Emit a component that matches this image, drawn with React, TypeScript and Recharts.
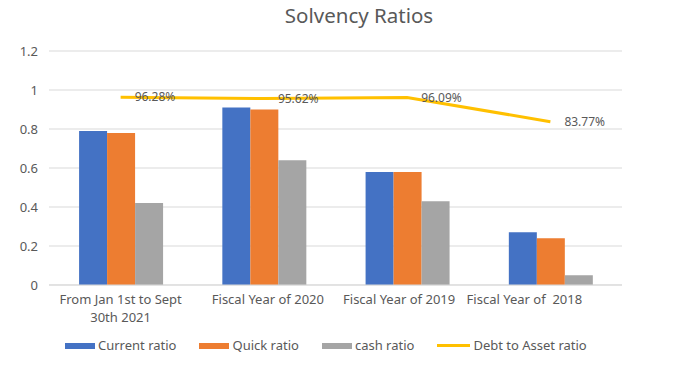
import React from "react";
import {
  ComposedChart,
  Bar,
  Line,
  XAxis,
  YAxis,
  CartesianGrid,
  LabelList,
} from "recharts";

const categories = [
  "From Jan 1st to Sept 30th 2021",
  "Fiscal Year of 2020",
  "Fiscal Year of 2019",
  "Fiscal Year of  2018",
];
const categoryLines = [
  ["From Jan 1st to Sept", "30th 2021"],
  ["Fiscal Year of 2020"],
  ["Fiscal Year of 2019"],
  ["Fiscal Year of  2018"],
];
const currentRatio = [0.79, 0.91, 0.58, 0.27];
const quickRatio = [0.78, 0.9, 0.58, 0.24];
const cashRatio = [0.42, 0.64, 0.43, 0.05];
const debtToAsset = [0.9628, 0.9562, 0.9609, 0.8377];
const yTicks = [0, 0.2, 0.4, 0.6, 0.8, 1, 1.2];

const seriesNames = ["Current ratio", "Quick ratio", "cash ratio", "Debt to Asset ratio"];
const COLORS = ["#4472C4", "#ED7D31", "#A5A5A5", "#FFC000"];
const TEXT = "#595959";
const GRID = "#D9D9D9";
const FONT = "'Noto Sans', 'DejaVu Sans', sans-serif";

const data = categories.map((c, i) => ({
  name: c,
  current: currentRatio[i],
  quick: quickRatio[i],
  cash: cashRatio[i],
  debt: debtToAsset[i],
}));

const tickShift = [0, 4, -8, -26];

const XTick = (props: any) => {
  const { x, y, index } = props;
  const lines = categoryLines[index] || [String(props.payload?.value ?? "")];
  const tx = x + (tickShift[index] || 0);
  return (
    <g>
      {lines.map((l: string, k: number) => (
        <text
          key={k}
          x={tx}
          y={y + 11 + k * 18}
          textAnchor="middle"
          fill={TEXT}
          fontSize={13}
          fontFamily={FONT}
          style={{ whiteSpace: "pre" }}
        >
          {l}
        </text>
      ))}
    </g>
  );
};

const DebtLabel = (props: any) => {
  const { x, y, value } = props;
  return (
    <text
      x={x + 14}
      y={y}
      dy="0.35em"
      textAnchor="start"
      fill={TEXT}
      fontSize={12}
      fontFamily={FONT}
    >
      {(Number(value) * 100).toFixed(2) + "%"}
    </text>
  );
};

export default function App() {
  return (
    <div style={{ position: "absolute", left: 0, top: 0, width: 673, height: 370, background: "#fff", fontFamily: FONT }}>
      <div
        style={{
          position: "absolute",
          left: 0,
          width: 718,
          top: 2,
          textAlign: "center",
          fontSize: 20.5,
          color: TEXT,
          lineHeight: "26px",
        }}
      >
        Solvency Ratios
      </div>
      <ComposedChart
        width={673}
        height={370}
        data={data}
        margin={{ top: 51, right: 51, bottom: 0, left: 0 }}
        barCategoryGap="21%"
        barGap={0}
      >
        <CartesianGrid vertical={false} stroke={GRID} strokeWidth={1} />
        <XAxis
          dataKey="name"
          axisLine={{ stroke: GRID }}
          tickLine={false}
          tickSize={0}
          tickMargin={8}
          height={85}
          interval={0}
          tick={<XTick />}
        />
        <YAxis
          domain={[0, 1.2]}
          ticks={yTicks}
          width={49}
          axisLine={false}
          tickLine={false}
          tickSize={0}
          tickMargin={11}
          tick={{ fill: TEXT, fontSize: 13, fontFamily: FONT }}
          tickFormatter={(v: number) => String(Number(v.toFixed(1)))}
        />
        <Bar dataKey="current" name={seriesNames[0]} fill={COLORS[0]} isAnimationActive={false} />
        <Bar dataKey="quick" name={seriesNames[1]} fill={COLORS[1]} isAnimationActive={false} />
        <Bar dataKey="cash" name={seriesNames[2]} fill={COLORS[2]} isAnimationActive={false} />
        <Line
          dataKey="debt"
          name={seriesNames[3]}
          stroke={COLORS[3]}
          strokeWidth={3}
          dot={false}
          activeDot={false}
          isAnimationActive={false}
        >
          <LabelList dataKey="debt" content={<DebtLabel />} />
        </Line>
      </ComposedChart>
      <div
        style={{
          position: "absolute",
          left: 65,
          top: 337,
          display: "flex",
          alignItems: "center",
          fontSize: 13,
          color: TEXT,
          whiteSpace: "nowrap",
        }}
      >
        {seriesNames.map((n, i) => (
          <div key={n} style={{ display: "flex", alignItems: "center", marginRight: 23 }}>
            {i < 3 ? (
              <span style={{ display: "inline-block", width: 30, height: 6, background: COLORS[i] }} />
            ) : (
              <span style={{ display: "inline-block", width: 33, height: 3, background: COLORS[i] }} />
            )}
            <span style={{ marginLeft: 3, lineHeight: "17px" }}>{n}</span>
          </div>
        ))}
      </div>
    </div>
  );
}
